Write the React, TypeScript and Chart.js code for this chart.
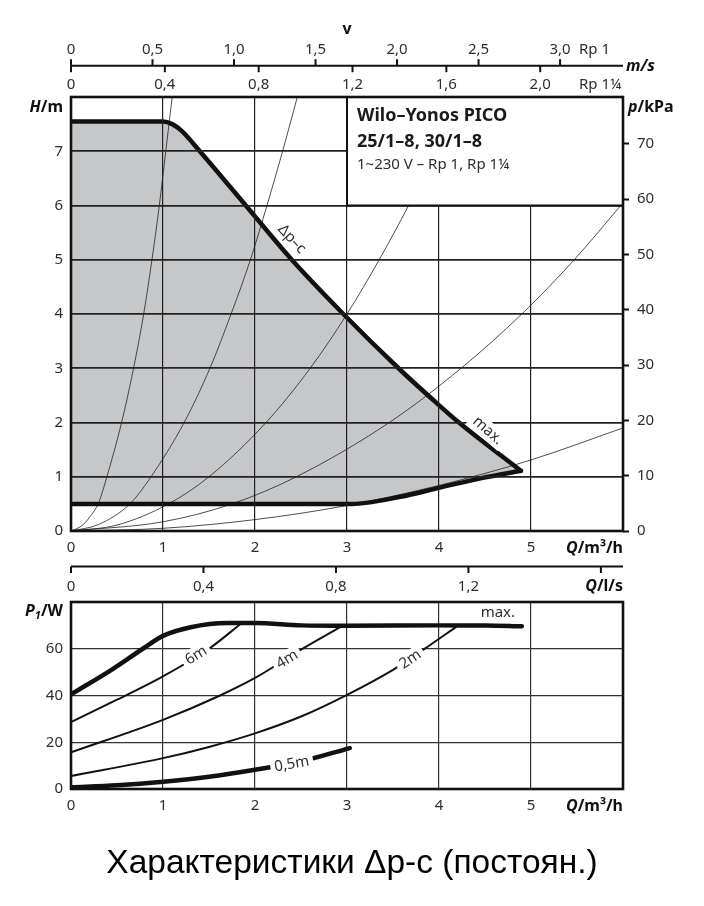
import React, { useEffect, useRef } from "react";
import { Chart, registerables } from "chart.js";

Chart.register(...registerables);

// ---------------- DATA ----------------
// Top chart: head H/m over flow Q/m³/h
const Q_MAX = 6;
const H_MAX = 8;
const P_MAX = 80;
const KPA_PER_M = 9.81;
const M3H_PER_MS_RP1 = 1.772; // m³/h for 1 m/s in Rp 1
const M3H_PER_MS_RP114 = 2.55; // m³/h for 1 m/s in Rp 1¼
const M3H_PER_LS = 3.6;

// Δp-c upper boundary (max.)
const dpcUpperQ = [0, 1.0, 1.1, 1.2, 1.4, 1.9, 2.4, 2.96, 3.56, 3.94, 4.23, 4.89];
const dpcUpperH = [7.55, 7.55, 7.5, 7.38, 7.0, 6.0, 5.0, 4.0, 3.0, 2.41, 1.98, 1.11];
// Δp-c lower boundary (min.)
const dpcLowerQ = [0, 3.05, 3.58, 4.01, 4.45, 4.89];
const dpcLowerH = [0.5, 0.5, 0.63, 0.8, 0.97, 1.11];

// system curves (thin lines)
const sys1Q = [0, 0.12, 0.2, 0.3, 0.39, 0.55, 0.68, 0.79, 0.88, 0.96, 1.03, 1.1];
const sys1H = [0, 0.1, 0.25, 0.52, 1, 2, 3, 4, 5, 6, 7, 8];
const sys2Q = [0, 0.3, 0.64, 0.87, 1.23, 1.51, 1.74, 1.95, 2.13, 2.3, 2.46];
const sys2H = [0, 0.12, 0.5, 1, 2, 3, 4, 5, 6, 7, 8];
const sys3Q = [0, 0.5, 1.06, 1.5, 2.12, 2.6, 3.0, 3.35, 3.67, 3.97, 4.24];
const sys3H = [0, 0.11, 0.5, 1, 2, 3, 4, 5, 6, 7, 8];
const sys4Q = [0, 1.0, 1.75, 2.45, 3.46, 4.24, 4.9, 5.47, 6.0];
const sys4H = [0, 0.17, 0.5, 1, 2, 3, 4, 5, 6.05];
const sys5Q = [0, 1, 2, 3, 4, 5, 6];
const sys5H = [0, 0.05, 0.21, 0.47, 0.84, 1.31, 1.9];

// Bottom chart: power P1/W over Q/m³/h
const pMaxQ = [0, 0.44, 0.78, 1.0, 1.3, 1.7, 2.0, 2.5, 3.0, 4.0, 4.5, 4.9];
const pMaxP = [40.5, 51, 60, 65.5, 69.2, 71, 71, 70, 69.8, 70, 70, 69.6];
const p6Q = [0, 0.5, 1.0, 1.5, 1.85];
const p6P = [28.6, 38.2, 48.2, 60, 70.8];
const p4Q = [0, 1.0, 1.62, 2.0, 2.5, 2.96];
const p4P = [15.7, 29.6, 40, 47.5, 59.6, 70];
const p2Q = [0, 1.0, 1.5, 2.0, 2.5, 3.0, 3.5, 3.83, 4.21];
const p2P = [5.6, 13.2, 18, 23.8, 31, 40.3, 51, 59.6, 70];
const p05Q = [0, 0.5, 1.0, 1.5, 2.0, 2.5, 3.03];
const p05P = [0.7, 1.6, 3.1, 5.2, 8.2, 11.8, 17.5];

// tick values / labels
const velRp1 = [0, 0.5, 1.0, 1.5, 2.0, 2.5, 3.0];
const velRp1Labels = ["0", "0,5", "1,0", "1,5", "2,0", "2,5", "3,0"];
const velRp114 = [0, 0.4, 0.8, 1.2, 1.6, 2.0];
const velRp114Labels = ["0", "0,4", "0,8", "1,2", "1,6", "2,0"];
const qLs = [0, 0.4, 0.8, 1.2, 1.6];
const qLsLabels = ["0", "0,4", "0,8", "1,2", ""];

const boxLines = ["Wilo–Yonos PICO", "25/1–8, 30/1–8"];
const boxSub = "1~230 V – Rp 1, Rp 1¼";
const caption = "Характеристики Δp-c (постоян.)";

// curve label annotations (data units)
const topCurveLabels = [
  { text: "Δp–c", q: 2.4, v: 5.38, angle: 47, bg: false },
  { text: "max.", q: 4.53, v: 1.85, angle: 41, bg: true },
];
const botCurveLabels = [
  { text: "6m", q: 1.36, v: 57.1, angle: -31, bg: true },
  { text: "4m", q: 2.35, v: 55.4, angle: -31, bg: true },
  { text: "2m", q: 3.69, v: 55.4, angle: -34, bg: true },
  { text: "0,5m", q: 2.4, v: 10.6, angle: -10, bg: true },
  { text: "max.", q: 4.64, v: 75.4, angle: 0, bg: false },
];

// ---------------- STYLE ----------------
const FAM = '"Noto Sans", "DejaVu Sans", sans-serif';
const INK = "#111";
const TXT = "#2e2e2e";
const GRAY = "#c6c7c9";
const TICK_FONT = { family: FAM, size: 15 };
const BI = `italic bold 16px ${FAM}`;
const B = `bold 16px ${FAM}`;

const xy = (qs: number[], vs: number[]) => qs.map((q, i) => ({ x: q, y: vs[i] }));

type Part = { t: string; f: string; dy?: number };
function drawRich(ctx: CanvasRenderingContext2D, parts: Part[], x: number, y: number, align: "left" | "right" | "center") {
  let total = 0;
  for (const p of parts) {
    ctx.font = p.f;
    total += ctx.measureText(p.t).width;
  }
  let cx = align === "left" ? x : align === "right" ? x - total : x - total / 2;
  ctx.textAlign = "left";
  ctx.textBaseline = "middle";
  for (const p of parts) {
    ctx.font = p.f;
    ctx.fillText(p.t, cx, y + (p.dy || 0));
    cx += ctx.measureText(p.t).width;
  }
}

function drawCurveLabel(ctx: CanvasRenderingContext2D, text: string, px: number, py: number, angle: number, size: number, bg: boolean) {
  ctx.save();
  ctx.translate(px, py);
  ctx.rotate((angle * Math.PI) / 180);
  ctx.font = `${size}px ${FAM}`;
  const w = ctx.measureText(text).width;
  if (bg) {
    ctx.fillStyle = "#fff";
    ctx.fillRect(-w / 2 - 4, -9, w + 8, 18);
  }
  ctx.fillStyle = TXT;
  ctx.textAlign = "center";
  ctx.textBaseline = "middle";
  ctx.fillText(text, 0, 0);
  ctx.restore();
}

const topDecor = {
  id: "topDecor",
  afterDraw(chart: any) {
    const { ctx, chartArea: a, scales } = chart;
    const sx = scales.x;
    const sy = scales.y;
    ctx.save();
    // info box
    const bx = sx.getPixelForValue(3);
    const by = sy.getPixelForValue(6);
    ctx.fillStyle = "#fff";
    ctx.fillRect(bx, a.top, a.right - bx, by - a.top);
    ctx.strokeStyle = INK;
    ctx.lineWidth = 2;
    ctx.strokeRect(bx, a.top, a.right - bx, by - a.top);
    ctx.fillStyle = "#1a1a1a";
    ctx.textAlign = "left";
    ctx.textBaseline = "alphabetic";
    ctx.font = `bold 18px ${FAM}`;
    ctx.fillText(boxLines[0], bx + 10, a.top + 24);
    ctx.fillText(boxLines[1], bx + 10, a.top + 50);
    ctx.font = `15px ${FAM}`;
    ctx.fillStyle = TXT;
    ctx.fillText(boxSub, bx + 10, a.top + 72);

    // curve labels
    for (const l of topCurveLabels) {
      drawCurveLabel(ctx, l.text, sx.getPixelForValue(l.q), sy.getPixelForValue(l.v), l.angle, 15, l.bg);
    }

    // frame
    ctx.strokeStyle = INK;
    ctx.lineWidth = 2.6;
    ctx.strokeRect(a.left, a.top, a.right - a.left, a.bottom - a.top);

    // velocity axis
    const yLine = a.top - 31.3;
    ctx.lineWidth = 2;
    ctx.beginPath();
    ctx.moveTo(a.left, yLine);
    ctx.lineTo(a.right, yLine);
    ctx.stroke();
    ctx.font = `15px ${FAM}`;
    ctx.fillStyle = TXT;
    ctx.textAlign = "center";
    ctx.textBaseline = "middle";
    velRp1.forEach((v, i) => {
      const px = sx.getPixelForValue(v * M3H_PER_MS_RP1);
      ctx.beginPath();
      ctx.moveTo(px, yLine);
      ctx.lineTo(px, yLine - 6.5);
      ctx.stroke();
      ctx.fillText(velRp1Labels[i], px, yLine - 15.5);
    });
    velRp114.forEach((v, i) => {
      const px = sx.getPixelForValue(v * M3H_PER_MS_RP114);
      ctx.beginPath();
      ctx.moveTo(px, yLine);
      ctx.lineTo(px, yLine + 6.5);
      ctx.stroke();
      ctx.fillText(velRp114Labels[i], px, yLine + 19);
    });
    ctx.textAlign = "left";
    ctx.fillText("Rp 1", a.right - 44, yLine - 15.5);
    ctx.fillText("Rp 1¼", a.right - 44, yLine + 19);
    ctx.fillStyle = "#111";
    ctx.font = `bold 16px ${FAM}`;
    ctx.textAlign = "center";
    ctx.fillText("v", (a.left + a.right) / 2, a.top - 68);
    drawRich(ctx, [{ t: "m/s", f: BI }], a.right + 3, yLine + 0.5, "left");

    // axis titles
    drawRich(ctx, [{ t: "H", f: BI }, { t: "/m", f: B }], a.left - 8, a.top + 10, "right");
    drawRich(ctx, [{ t: "p", f: BI }, { t: "/kPa", f: B }], a.right + 5, a.top + 10, "left");
    drawRich(ctx, [{ t: "Q", f: BI }, { t: "/m³/h", f: B }], a.right, a.bottom + 17, "right");
    ctx.restore();
  },
};

const botDecor = {
  id: "botDecor",
  afterDraw(chart: any) {
    const { ctx, chartArea: a, scales } = chart;
    const sx = scales.x;
    const sy = scales.y;
    ctx.save();
    for (const l of botCurveLabels) {
      drawCurveLabel(ctx, l.text, sx.getPixelForValue(l.q), sy.getPixelForValue(l.v), l.angle, 15, l.bg);
    }
    ctx.strokeStyle = INK;
    ctx.lineWidth = 2.6;
    ctx.strokeRect(a.left, a.top, a.right - a.left, a.bottom - a.top);

    // Q/l/s axis
    const yLine = a.top - 35.5;
    ctx.lineWidth = 2;
    ctx.beginPath();
    ctx.moveTo(a.left, yLine);
    ctx.lineTo(a.right, yLine);
    ctx.stroke();
    ctx.font = `15px ${FAM}`;
    ctx.fillStyle = TXT;
    ctx.textAlign = "center";
    ctx.textBaseline = "middle";
    qLs.forEach((v, i) => {
      const px = sx.getPixelForValue(v * M3H_PER_LS);
      ctx.beginPath();
      ctx.moveTo(px, yLine);
      ctx.lineTo(px, yLine + 6.5);
      ctx.stroke();
      ctx.fillText(qLsLabels[i], px, yLine + 20);
    });
    ctx.fillStyle = "#111";
    drawRich(ctx, [{ t: "Q", f: BI }, { t: "/l/s", f: B }], a.right, yLine + 20, "right");
    drawRich(ctx, [{ t: "Q", f: BI }, { t: "/m³/h", f: B }], a.right, a.bottom + 17.5, "right");
    drawRich(
      ctx,
      [
        { t: "P", f: BI },
        { t: "1", f: `italic bold 11px ${FAM}`, dy: 4 },
        { t: "/W", f: B },
      ],
      a.left - 8,
      a.top + 9.5,
      "right"
    );
    ctx.restore();
  },
};

function topConfig(): any {
  const thin = (qs: number[], hs: number[]) => ({
    data: xy(qs, hs),
    borderColor: "#222",
    borderWidth: 0.8,
    pointRadius: 0,
    fill: false,
    cubicInterpolationMode: "monotone",
    order: 5,
  });
  return {
    type: "line",
    data: {
      datasets: [
        {
          data: [...xy(dpcUpperQ, dpcUpperH), ...xy(dpcLowerQ, dpcLowerH).reverse()],
          fill: "shape",
          backgroundColor: GRAY,
          borderWidth: 0,
          pointRadius: 0,
          tension: 0,
          order: 10,
        },
        thin(sys1Q, sys1H),
        thin(sys2Q, sys2H),
        thin(sys3Q, sys3H),
        thin(sys4Q, sys4H),
        thin(sys5Q, sys5H),
        {
          data: xy(dpcUpperQ, dpcUpperH),
          borderColor: INK,
          borderWidth: 4.5,
          pointRadius: 0,
          fill: false,
          cubicInterpolationMode: "monotone",
          borderCapStyle: "round",
          order: 1,
        },
        {
          data: xy(dpcLowerQ, dpcLowerH),
          borderColor: INK,
          borderWidth: 4.5,
          pointRadius: 0,
          fill: false,
          cubicInterpolationMode: "monotone",
          borderCapStyle: "round",
          order: 1,
        },
      ],
    },
    options: {
      responsive: false,
      animation: false,
      events: [],
      layout: { padding: { top: 97, left: 0, right: 0, bottom: 0 } },
      plugins: { legend: { display: false }, tooltip: { enabled: false } },
      scales: {
        x: {
          type: "linear",
          min: 0,
          max: Q_MAX,
          position: "bottom",
          ticks: { stepSize: 1, padding: 8, font: TICK_FONT, color: TXT, callback: (v: number) => (v <= 5 ? String(v) : "") },
          grid: { color: "#222", lineWidth: 1.2, drawTicks: false, z: 1 },
          border: { display: false },
          afterFit: (s: any) => {
            s.height = 29;
          },
        },
        y: {
          type: "linear",
          min: 0,
          max: H_MAX,
          position: "left",
          ticks: { stepSize: 1, padding: 8, font: TICK_FONT, color: TXT, callback: (v: number) => (v <= 7 ? String(v) : "") },
          grid: { color: "#222", lineWidth: 1.8, drawTicks: false, z: 1 },
          border: { display: false },
          afterFit: (s: any) => {
            s.width = 71;
          },
        },
        yk: {
          type: "linear",
          min: 0,
          max: H_MAX * KPA_PER_M,
          position: "right",
          ticks: {
            stepSize: 10,
            padding: 8,
            includeBounds: false,
            font: TICK_FONT,
            color: TXT,
            callback: (v: number) => (v % 10 === 0 && v <= 70 ? String(v) : ""),
          },
          grid: { drawOnChartArea: false, drawTicks: true, tickLength: 6, tickColor: INK, tickWidth: 2 },
          border: { display: false },
          afterFit: (s: any) => {
            s.width = 81;
          },
        },
      },
    },
    plugins: [topDecor],
  };
}

function botConfig(): any {
  const mk = (qs: number[], ps: number[], w: number) => ({
    data: xy(qs, ps),
    borderColor: INK,
    borderWidth: w,
    pointRadius: 0,
    fill: false,
    cubicInterpolationMode: "monotone",
    borderCapStyle: "round",
  });
  return {
    type: "line",
    data: {
      datasets: [mk(pMaxQ, pMaxP, 4.5), mk(p6Q, p6P, 2), mk(p4Q, p4P, 2), mk(p2Q, p2P, 2), mk(p05Q, p05P, 4.5)],
    },
    options: {
      responsive: false,
      animation: false,
      events: [],
      layout: { padding: { top: 46, left: 0, right: 81, bottom: 0 } },
      plugins: { legend: { display: false }, tooltip: { enabled: false } },
      scales: {
        x: {
          type: "linear",
          min: 0,
          max: Q_MAX,
          ticks: { stepSize: 1, padding: 8, font: TICK_FONT, color: TXT, callback: (v: number) => (v <= 5 ? String(v) : "") },
          grid: { color: "#333", lineWidth: 1.2, drawTicks: false },
          border: { display: false },
          afterFit: (s: any) => {
            s.height = 41;
          },
        },
        y: {
          type: "linear",
          min: 0,
          max: P_MAX,
          ticks: { stepSize: 20, padding: 8, font: TICK_FONT, color: TXT, callback: (v: number) => (v <= 60 ? String(v) : "") },
          grid: { color: "#333", lineWidth: 1.2, drawTicks: false },
          border: { display: false },
          afterFit: (s: any) => {
            s.width = 71;
          },
        },
      },
    },
    plugins: [botDecor],
  };
}

export default function App() {
  const topRef = useRef<HTMLCanvasElement>(null);
  const botRef = useRef<HTMLCanvasElement>(null);
  useEffect(() => {
    const c1 = new Chart(topRef.current as HTMLCanvasElement, topConfig());
    const c2 = new Chart(botRef.current as HTMLCanvasElement, botConfig());
    return () => {
      c1.destroy();
      c2.destroy();
    };
  }, []);
  return (
    <div style={{ position: "fixed", left: 0, top: 0, width: 704, height: 906, background: "#fff", overflow: "hidden" }}>
      <canvas ref={topRef} width={704} height={560} style={{ position: "absolute", left: 0, top: 0, width: 704, height: 560 }} />
      <canvas ref={botRef} width={704} height={274} style={{ position: "absolute", left: 0, top: 556, width: 704, height: 274 }} />
      <div
        style={{
          position: "absolute",
          left: 0,
          top: 842,
          width: 704,
          textAlign: "center",
          fontFamily: '"Liberation Sans", Arial, sans-serif',
          fontSize: 33.5,
          lineHeight: "40px",
          color: "#000",
        }}
      >
        {caption}
      </div>
    </div>
  );
}
